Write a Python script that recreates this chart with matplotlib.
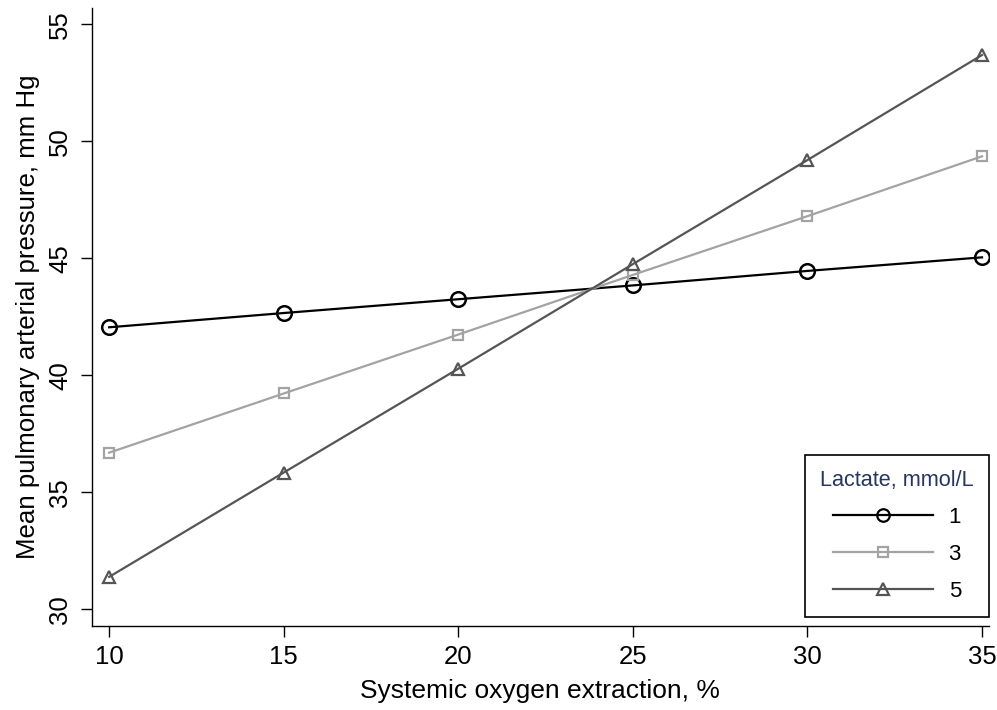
import matplotlib
matplotlib.use("Agg")
import matplotlib.pyplot as plt
from matplotlib.lines import Line2D

plt.rcParams['font.family'] = ['Liberation Sans', 'DejaVu Sans']

# data
extraction = [10, 15, 20, 25, 30, 35]
lactate_1 = [42.05, 42.66, 43.25, 43.84, 44.46, 45.04]
lactate_3 = [36.69, 39.22, 41.74, 44.29, 46.80, 49.36]
lactate_5 = [31.38, 35.84, 40.28, 44.75, 49.20, 53.69]
series_labels = ['1', '3', '5']
x_ticks = [10, 15, 20, 25, 30, 35]
y_ticks = [30, 35, 40, 45, 50, 55]

styles = [
    dict(color='black', marker='o', ms=10.5, mew=1.8, lw=1.6),
    dict(color='#a3a3a3', marker='s', ms=7, mew=1.6, lw=1.6),
    dict(color='#555555', marker='^', ms=8.5, mew=1.6, lw=1.6),
]

W, H = 997, 710
fig = plt.figure(figsize=(W / 100, H / 100), dpi=100)
ax = fig.add_axes([91.7 / W, (H - 626) / H, (989 - 91.7) / W, (626 - 8) / H])

for vals, st in zip([lactate_1, lactate_3, lactate_5], styles):
    ax.plot(extraction, vals, color=st['color'], lw=st['lw'], marker=st['marker'],
            ms=st['ms'], mfc='none', mec=st['color'], mew=st['mew'])

ax.set_xlim(9.5, 35.2)
ax.set_ylim(29.28, 55.7)
ax.set_xticks(x_ticks)
ax.set_yticks(y_ticks)
ax.tick_params(axis='both', direction='out', length=8, width=1.0, labelsize=18.5, pad=6)
for lab in ax.get_yticklabels():
    lab.set_rotation(90)
    lab.set_va('center')

for s in ['top', 'right']:
    ax.spines[s].set_visible(False)
for s in ['left', 'bottom']:
    ax.spines[s].set_linewidth(1.0)

ax.set_xlabel('Systemic oxygen extraction, %', fontsize=19, labelpad=7)
ax.set_ylabel('Mean pulmonary arterial pressure, mm Hg', fontsize=18.6, labelpad=6)

# legend proxies with smaller markers like the original key
handles = []
for st, ms in zip(styles, [9, 7, 8]):
    handles.append(Line2D([], [], color=st['color'], lw=st['lw'], marker=st['marker'],
                          ms=ms, mfc='none', mec=st['color'], mew=1.6))
leg = ax.legend(handles, series_labels, title='Lactate, mmol/L', loc='lower right',
                bbox_to_anchor=(1.0, 0.0146), borderaxespad=0, fontsize=16,
                title_fontsize=15.6, frameon=True, fancybox=False, framealpha=1,
                edgecolor='black', handlelength=4.5, handletextpad=0.7,
                labelspacing=0.72, borderpad=0.68)
leg.get_frame().set_linewidth(1.2)
leg.get_title().set_color('#26365e')

fig.savefig('out.png', dpi=100)
